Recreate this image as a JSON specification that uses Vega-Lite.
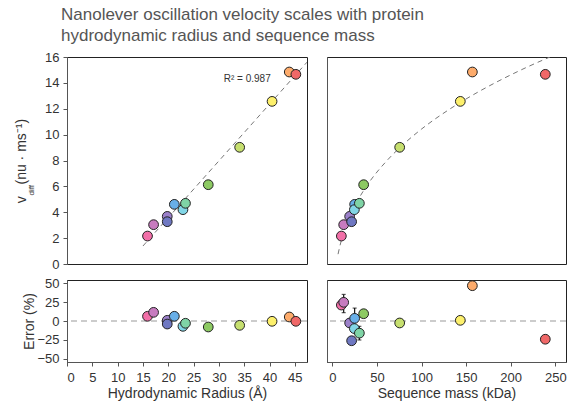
{
  "$schema": "https://vega.github.io/schema/vega-lite/v6.json",
  "padding": {"left": 14, "top": 5, "right": 5, "bottom": 5},
  "title": {
    "text": ["Nanolever oscillation velocity scales with protein", "hydrodynamic radius and sequence mass"],
    "anchor": "start", "frame": "group", "fontSize": 17, "fontWeight": "normal", "color": "#555",
    "font": "Liberation Sans", "lineHeight": 21, "offset": 6, "dx": -6
  },
  "datasets": {
    "proteins": [
      {"id": "P1", "rh": 15.9, "v": 2.16, "mass": 10.1, "err_rh": 6.2, "err_mass": 21},
      {"id": "P2", "rh": 17.1, "v": 3.04, "mass": 12.7, "err_rh": 11.4, "err_mass": 24.6},
      {"id": "P3", "rh": 19.8, "v": 3.68, "mass": 19.4, "err_rh": 0.9, "err_mass": -2.6},
      {"id": "P4", "rh": 19.8, "v": 3.27, "mass": 21.6, "err_rh": -4, "err_mass": -26},
      {"id": "P5", "rh": 21.2, "v": 4.61, "mass": 25, "err_rh": 6.2, "err_mass": 3.5},
      {"id": "P6", "rh": 22.9, "v": 4.2, "mass": 24.7, "err_rh": -7, "err_mass": -10},
      {"id": "P7", "rh": 23.4, "v": 4.69, "mass": 30.3, "err_rh": -3, "err_mass": -16},
      {"id": "P8", "rh": 27.9, "v": 6.13, "mass": 35.1, "err_rh": -7.9, "err_mass": 9.6},
      {"id": "P9", "rh": 34.1, "v": 9.02, "mass": 75.5, "err_rh": -5.7, "err_mass": -2.6},
      {"id": "P10", "rh": 40.5, "v": 12.57, "mass": 143.5, "err_rh": -0.4, "err_mass": 0.9},
      {"id": "P11", "rh": 43.9, "v": 14.84, "mass": 157, "err_rh": 5.3, "err_mass": 46.5},
      {"id": "P12", "rh": 45.2, "v": 14.66, "mass": 238.8, "err_rh": -0.4, "err_mass": -24}
    ],
    "fitRh": [
      {"rh": 15, "v": 1.39},
      {"rh": 47.4, "v": 15.6}
    ],
    "fitMass": [
      {"mass": 6.4, "v": 0.76}, {"mass": 8, "v": 1.26}, {"mass": 10, "v": 1.8}, {"mass": 15, "v": 2.88},
      {"mass": 20, "v": 3.74}, {"mass": 30, "v": 5.1}, {"mass": 40, "v": 6.19}, {"mass": 60, "v": 7.9},
      {"mass": 80, "v": 9.27}, {"mass": 100, "v": 10.43}, {"mass": 130, "v": 11.9}, {"mass": 160, "v": 13.16},
      {"mass": 190, "v": 14.27}, {"mass": 220, "v": 15.27}, {"mass": 244, "v": 16.0}
    ],
    "errTL": [
      {"id": "P5", "rh": 21.2, "lo": 4.25, "hi": 4.98}
    ],
    "errBR": [
      {"id": "P2", "mass": 12.7, "lo": 11, "hi": 35},
      {"id": "P5", "mass": 25, "lo": -6, "hi": 17},
      {"id": "P7", "mass": 30.3, "lo": -25, "hi": -7}
    ]
  },
  "config": {
    "font": "Liberation Sans",
    "view": {"stroke": "#222", "strokeWidth": 1},
    "axis": {
      "grid": false, "labelFontSize": 13, "labelColor": "#333", "titleFontSize": 14,
      "titleFontWeight": "normal", "titleColor": "#333", "tickColor": "#555", "domainColor": "#555",
      "tickSize": 4, "labelFont": "Liberation Sans", "titleFont": "Liberation Sans", "labelOverlap": false
    },
    "axisX": {"labelPadding": 5},
    "axisY": {"labelPadding": 4},
    "legend": {"disable": true}
  },
  "columns": 2,
  "spacing": {"row": 16, "column": 20},
  "bounds": "flush",
  "resolve": {"scale": {"x": "independent", "y": "independent", "color": "shared"}},
  "concat": [
    {
      "width": 240, "height": 207,
      "resolve": {"scale": {"x": "independent", "y": "independent"}},
      "layer": [
        {
          "data": {"name": "fitRh"},
          "mark": {"type": "line", "color": "#777", "strokeDash": [5, 4], "strokeWidth": 1, "clip": true},
          "encoding": {
            "x": {"field": "rh", "type": "quantitative", "scale": {"domain": [0, 47.4], "nice": false}, "axis": null},
            "y": {"field": "v", "type": "quantitative", "scale": {"domain": [0, 16], "nice": false},
              "axis": {"title": "v\u00a0\u00a0\u00a0(nu · ms⁻¹)", "values": [0, 2, 4, 6, 8, 10, 12, 14, 16], "titlePadding": 16}}
          }
        },
        {
          "data": {"name": "errTL"},
          "mark": {"type": "rule", "color": "#111", "strokeWidth": 1.2},
          "encoding": {
            "x": {"field": "rh", "type": "quantitative", "scale": {"domain": [0, 47.4], "nice": false}, "axis": null},
            "y": {"field": "lo", "type": "quantitative", "scale": {"domain": [0, 16], "nice": false}, "axis": null},
            "y2": {"field": "hi"}
          }
        },
        {
          "data": {"name": "proteins"},
          "mark": {"type": "point", "filled": true, "size": 95, "stroke": "#222", "strokeWidth": 1, "opacity": 1},
          "encoding": {
            "x": {"field": "rh", "type": "quantitative", "scale": {"domain": [0, 47.4], "nice": false}, "axis": null},
            "y": {"field": "v", "type": "quantitative", "scale": {"domain": [0, 16], "nice": false}, "axis": null},
            "color": {"field": "id", "type": "nominal", "legend": null,
              "scale": {"domain": ["P1","P2","P3","P4","P5","P6","P7","P8","P9","P10","P11","P12"],
                "range": ["#f26fa8","#c77bbf","#9b80c9","#6f78c2","#68afe8","#82d6e6","#7fd4a6","#8dca63","#c6df6f","#fdf06c","#fdab6b","#f06868"]}}
          }
        },
        {
          "data": {"values": [{"label": "R² = 0.987"}]},
          "mark": {"type": "text", "fontSize": 10, "color": "#333", "align": "center", "baseline": "middle"},
          "encoding": {
            "x": {"datum": 35.6, "type": "quantitative", "scale": {"domain": [0, 47.4], "nice": false}, "axis": null},
            "y": {"datum": 14.3, "type": "quantitative", "scale": {"domain": [0, 16], "nice": false}, "axis": null},
            "text": {"field": "label"}
          }
        },
        {
          "data": {"values": [{"label": "diff"}]},
          "mark": {"type": "text", "fontSize": 8, "color": "#333", "align": "center", "baseline": "middle", "angle": 270, "clip": false},
          "encoding": {
            "x": {"datum": -7.0, "type": "quantitative", "scale": {"domain": [0, 47.4], "nice": false}, "axis": null},
            "y": {"datum": 5.7, "type": "quantitative", "scale": {"domain": [0, 16], "nice": false}, "axis": null},
            "text": {"field": "label"}
          }
        }
      ]
    },
    {
      "width": 239, "height": 207,
      "resolve": {"scale": {"x": "independent", "y": "independent"}},
      "layer": [
        {
          "data": {"name": "fitMass"},
          "mark": {"type": "line", "color": "#777", "strokeDash": [5, 4], "strokeWidth": 1, "clip": true, "interpolate": "monotone"},
          "encoding": {
            "x": {"field": "mass", "type": "quantitative", "scale": {"domain": [-6, 262], "nice": false}, "axis": null},
            "y": {"field": "v", "type": "quantitative", "scale": {"domain": [0, 16], "nice": false},
              "axis": {"title": null, "labels": false, "ticks": false}}
          }
        },
        {
          "data": {"name": "proteins"},
          "mark": {"type": "point", "filled": true, "size": 95, "stroke": "#222", "strokeWidth": 1, "opacity": 1},
          "encoding": {
            "x": {"field": "mass", "type": "quantitative", "scale": {"domain": [-6, 262], "nice": false}, "axis": null},
            "y": {"field": "v", "type": "quantitative", "scale": {"domain": [0, 16], "nice": false}, "axis": null},
            "color": {"field": "id", "type": "nominal", "legend": null}
          }
        }
      ]
    },
    {
      "width": 240, "height": 82,
      "resolve": {"scale": {"x": "independent", "y": "independent"}},
      "layer": [
        {
          "data": {"values": [{}]},
          "mark": {"type": "rule", "color": "#999", "strokeDash": [6, 4], "strokeWidth": 1.2},
          "encoding": {
            "y": {"datum": 0, "type": "quantitative", "scale": {"domain": [-54, 54], "nice": false},
              "axis": {"title": "Error (%)", "values": [-50, -25, 0, 25, 50], "titlePadding": 0}}
          }
        },
        {
          "data": {"name": "proteins"},
          "mark": {"type": "point", "filled": true, "size": 95, "stroke": "#222", "strokeWidth": 1, "opacity": 1},
          "encoding": {
            "x": {"field": "rh", "type": "quantitative", "scale": {"domain": [0, 47.4], "nice": false},
              "axis": {"title": "Hydrodynamic Radius (Å)", "values": [0, 5, 10, 15, 20, 25, 30, 35, 40, 45], "titlePadding": 2}},
            "y": {"field": "err_rh", "type": "quantitative", "scale": {"domain": [-54, 54], "nice": false}, "axis": null},
            "color": {"field": "id", "type": "nominal", "legend": null}
          }
        }
      ]
    },
    {
      "width": 239, "height": 82,
      "resolve": {"scale": {"x": "independent", "y": "independent"}},
      "layer": [
        {
          "data": {"values": [{}]},
          "mark": {"type": "rule", "color": "#999", "strokeDash": [6, 4], "strokeWidth": 1.2},
          "encoding": {
            "y": {"datum": 0, "type": "quantitative", "scale": {"domain": [-54, 54], "nice": false},
              "axis": {"title": null, "labels": false, "ticks": false}}
          }
        },
        {
          "data": {"name": "errBR"},
          "mark": {"type": "errorbar", "color": "#111", "ticks": {"size": 4}, "thickness": 1.2},
          "encoding": {
            "x": {"field": "mass", "type": "quantitative", "scale": {"domain": [-6, 262], "nice": false}, "axis": null},
            "y": {"field": "lo", "type": "quantitative", "scale": {"domain": [-54, 54], "nice": false}, "axis": null},
            "y2": {"field": "hi"}
          }
        },
        {
          "data": {"name": "proteins"},
          "mark": {"type": "point", "filled": true, "size": 95, "stroke": "#222", "strokeWidth": 1, "opacity": 1},
          "encoding": {
            "x": {"field": "mass", "type": "quantitative", "scale": {"domain": [-6, 262], "nice": false},
              "axis": {"title": "Sequence mass (kDa)", "values": [0, 50, 100, 150, 200, 250], "titlePadding": 2}},
            "y": {"field": "err_mass", "type": "quantitative", "scale": {"domain": [-54, 54], "nice": false}, "axis": null},
            "color": {"field": "id", "type": "nominal", "legend": null}
          }
        }
      ]
    }
  ]
}
